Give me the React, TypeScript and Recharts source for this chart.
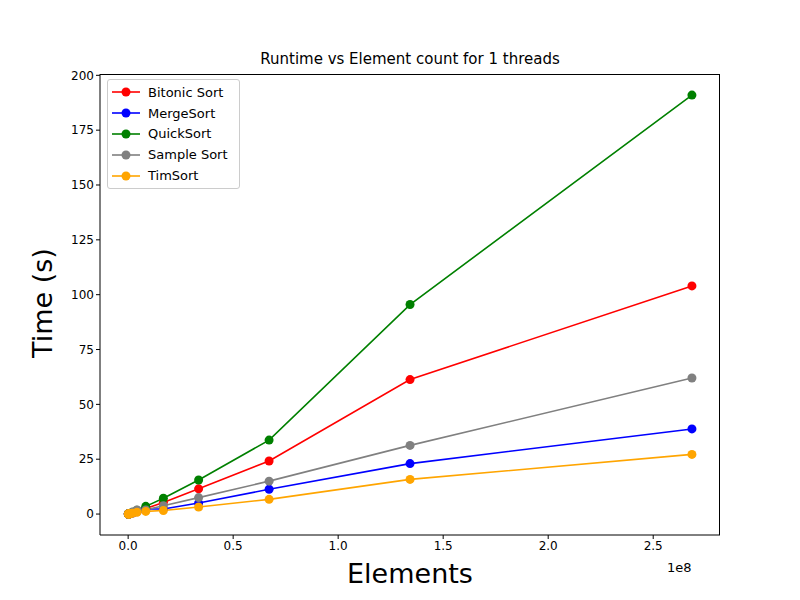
import React from "react";
import { LineChart, Line, XAxis, YAxis } from "recharts";

const elements = [65536, 131072, 262144, 524288, 1048576, 2097152, 4194304, 8388608, 16777216, 33554432, 67108864, 134217728, 268435456];
const bitonic = [0.01, 0.02, 0.04, 0.08, 0.25, 0.55, 1.2, 2.5, 5.3, 11.5, 24.2, 61.3, 104];
const merge = [0.01, 0.02, 0.03, 0.06, 0.2, 0.5, 1.1, 2.3, 2.3, 5, 11.3, 23, 38.8];
const quick = [0.02, 0.03, 0.06, 0.12, 0.35, 0.8, 1.7, 3.5, 7.2, 15.5, 33.7, 95.5, 191];
const sample = [0.01, 0.02, 0.04, 0.08, 0.2, 0.9, 1.9, 1.9, 3.8, 7.5, 15, 31.3, 62];
const tim = [0.01, 0.01, 0.02, 0.05, 0.15, 0.4, 0.8, 1.2, 1.6, 3.2, 6.7, 15.8, 27.2];
const xTicks = [0, 0.5e8, 1e8, 1.5e8, 2e8, 2.5e8];
const yTicks = [0, 25, 50, 75, 100, 125, 150, 175, 200];

const data = elements.map((e, i) => ({ e, bitonic: bitonic[i], merge: merge[i], quick: quick[i], sample: sample[i], tim: tim[i] }));
const series = [
  { key: "bitonic", name: "Bitonic Sort", color: "#ff0000" },
  { key: "merge", name: "MergeSort", color: "#0000ff" },
  { key: "quick", name: "QuickSort", color: "#008000" },
  { key: "sample", name: "Sample Sort", color: "#808080" },
  { key: "tim", name: "TimSort", color: "#ffa500" },
];
const font = "DejaVu Sans";

export default function App() {
  return (
    <div style={{ position: "absolute", left: 0, top: 0, width: 800, height: 600, background: "#fff", fontFamily: font }}>
      <LineChart width={800} height={600} data={data} margin={{ top: 74, right: 80, bottom: 0, left: 40 }} style={{ position: "absolute", left: 0, top: 0 }}>
        <XAxis dataKey="e" type="number" domain={[-1.34e7, 2.818e8]} ticks={xTicks} tickFormatter={(v) => (v / 1e8).toFixed(1)} allowDataOverflow
          stroke="#000" tick={{ fill: "#000", fontSize: 12, fontFamily: font }} tickSize={4} height={65} interval={0} />
        <YAxis type="number" domain={[-9.55, 200.6]} ticks={yTicks} allowDataOverflow width={60}
          stroke="#000" tick={{ fill: "#000", fontSize: 12, fontFamily: font }} tickSize={4} interval={0} />
        {series.map((s) => (
          <Line key={s.key} dataKey={s.key} name={s.name} stroke={s.color} strokeWidth={1.6} isAnimationActive={false}
            dot={{ r: 4.5, fill: s.color, stroke: s.color, strokeWidth: 0 }} />
        ))}
      </LineChart>
      <div style={{ position: "absolute", left: 100, top: 74, width: 620, height: 461, border: "1px solid #000", borderLeft: "none", borderBottom: "none", boxSizing: "border-box", pointerEvents: "none" }} />
      <div style={{ position: "absolute", top: 50, left: 100, width: 620, textAlign: "center", fontSize: 15 }}>Runtime vs Element count for 1 threads</div>
      <div style={{ position: "absolute", left: 42, top: 303, transform: "translate(-50%,-50%) rotate(-90deg)", fontSize: 27, whiteSpace: "nowrap" }}>Time (s)</div>
      <div style={{ position: "absolute", top: 558, left: 100, width: 620, textAlign: "center", fontSize: 27 }}>Elements</div>
      <div style={{ position: "absolute", top: 560, left: 667, fontSize: 13 }}>1e8</div>
      <div style={{ position: "absolute", left: 107, top: 79, width: 133, border: "1px solid #ccc", borderRadius: 3, background: "#fff", padding: "2px 4px", fontSize: 13, boxSizing: "border-box" }}>
        {series.map((s) => (
          <div key={s.key} style={{ display: "flex", alignItems: "center", height: 20.8 }}>
            <svg width={30} height={12}><line x1={0} x2={28} y1={6} y2={6} stroke={s.color} strokeWidth={1.6} /><circle cx={14} cy={6} r={4.5} fill={s.color} /></svg>
            <span style={{ marginLeft: 6, color: "#000" }}>{s.name}</span>
          </div>
        ))}
      </div>
    </div>
  );
}
